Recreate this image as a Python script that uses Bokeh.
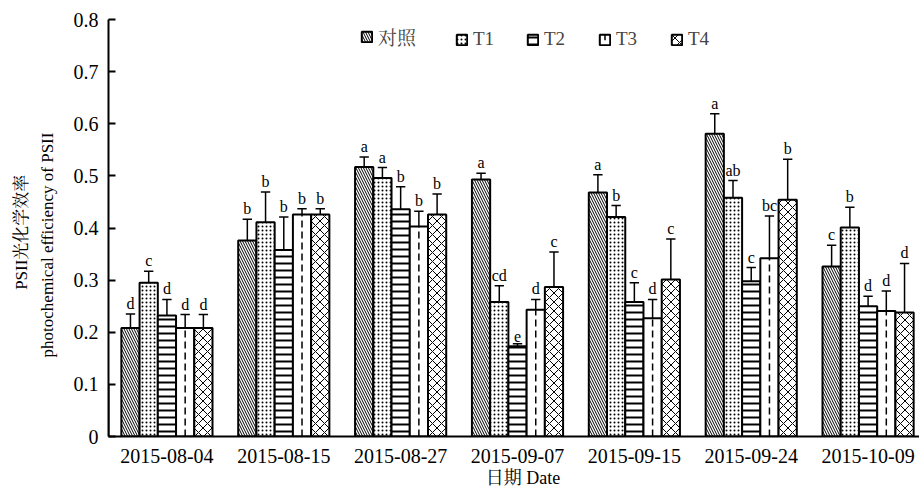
from bokeh.plotting import figure
from bokeh.models import Range1d, FixedTicker, Legend, LegendItem, ColumnDataSource
from bokeh.embed import file_html
from bokeh.resources import INLINE
from bokeh.core.properties import value

# Sampling dates and treatments
dates = ["2015-08-04", "2015-08-15", "2015-08-27", "2015-09-07",
         "2015-09-15", "2015-09-24", "2015-10-09"]
treatments = ["对照", "T1", "T2", "T3", "T4"]

# PSII photochemical efficiency (means)
ctrl = [0.208, 0.376, 0.517, 0.493, 0.468, 0.581, 0.326]
t1 = [0.295, 0.411, 0.496, 0.258, 0.421, 0.458, 0.401]
t2 = [0.232, 0.358, 0.436, 0.173, 0.258, 0.298, 0.250]
t3 = [0.208, 0.426, 0.403, 0.243, 0.227, 0.342, 0.241]
t4 = [0.208, 0.426, 0.426, 0.287, 0.301, 0.454, 0.238]

# Standard errors (upper bars only)
ctrl_err = [0.027, 0.041, 0.019, 0.012, 0.034, 0.038, 0.041]
t1_err = [0.022, 0.058, 0.020, 0.031, 0.022, 0.033, 0.039]
t2_err = [0.031, 0.063, 0.043, 0.005, 0.037, 0.026, 0.019]
t3_err = [0.026, 0.011, 0.029, 0.020, 0.036, 0.081, 0.038]
t4_err = [0.026, 0.011, 0.039, 0.067, 0.078, 0.078, 0.094]

# Significance letters
ctrl_sig = ["d", "b", "a", "a", "a", "a", "c"]
t1_sig = ["c", "b", "a", "cd", "b", "ab", "b"]
t2_sig = ["d", "b", "b", "e", "c", "c", "d"]
t3_sig = ["d", "b", "b", "d", "d", "bc", "d"]
t4_sig = ["d", "b", "b", "c", "c", "b", "d"]

y_ticks = [0, 0.1, 0.2, 0.3, 0.4, 0.5, 0.6, 0.7, 0.8]

x_title = "日期 Date"
y_title_cn = "PSII光化学效率"
y_title_en = "photochemical efficiency of PSII"

means = [ctrl, t1, t2, t3, t4]
errs = [ctrl_err, t1_err, t2_err, t3_err, t4_err]
sigs = [ctrl_sig, t1_sig, t2_sig, t3_sig, t4_sig]

FONT = "'Liberation Serif', 'Noto Serif CJK SC', 'Noto Sans CJK SC', serif"
NBSP = "\u00a0"
BAR_W = 0.156
CAP_HALF = 0.04

styles = [
    dict(hatch_pattern="\\", hatch_scale=5, hatch_weight=1),
    dict(hatch_pattern=".", hatch_scale=4, hatch_weight=1),
    dict(hatch_pattern="-", hatch_scale=7, hatch_weight=2),
    dict(hatch_pattern=" ", hatch_scale=7, hatch_weight=1),
    dict(hatch_pattern="x", hatch_scale=9, hatch_weight=1),
]

# screen offsets (from frame left) of each legend entry
legend_x = [252, 347, 418, 490, 562]
LEGEND_Y = 386

p = figure(width=919, height=490,
           x_range=Range1d(0, 6.94), y_range=Range1d(0, 0.8),
           output_backend="svg", toolbar_location=None,
           min_border_left=108, min_border_right=0,
           min_border_top=19, min_border_bottom=54)
p.outline_line_color = None
p.xgrid.visible = False
p.ygrid.visible = False
p.background_fill_color = "white"

for j, (m, e, s) in enumerate(zip(means, errs, sigs)):
    xs = [i + 0.5 + (j - 2) * BAR_W for i in range(len(dates))]
    tops = [mv + ev for mv, ev in zip(m, e)]
    src = ColumnDataSource(dict(x=xs, top=m, cap=tops, sig=s,
                                x0=[x - CAP_HALF for x in xs],
                                x1=[x + CAP_HALF for x in xs]))
    r = p.vbar(x="x", top="top", width=BAR_W, bottom=0, source=src,
               fill_color="white", line_color="black", line_width=2,
               hatch_color="black", **styles[j])
    if j == 3:
        # centre dashed line inside the T3 bars
        p.segment(x0="x", y0=0, x1="x", y1="top", source=src,
                  line_color="black", line_width=1.5, line_dash="7 4")
        # swatch for the legend: white box with a dashed stroke
        leg_r = p.vbar(x=[-5], top=[0.1], width=BAR_W, fill_color="white",
                       line_color="black", line_width=2, hatch_color="black",
                       hatch_pattern=":", hatch_scale=12, hatch_weight=1.5)
    else:
        leg_r = r
    # error bars
    p.segment(x0="x", y0="top", x1="x", y1="cap", source=src,
              line_color="black", line_width=1.5)
    p.segment(x0="x0", y0="cap", x1="x1", y1="cap", source=src,
              line_color="black", line_width=1.5)
    # significance letters
    p.text(x="x", y="cap", text="sig", source=src, y_offset=-2,
           text_align="center", text_baseline="bottom",
           text_font=value(FONT), text_font_size="16px", text_color="black")

    lg = Legend(items=[LegendItem(label=treatments[j], renderers=[leg_r])],
                location=(legend_x[j], LEGEND_Y), orientation="horizontal",
                glyph_width=13, glyph_height=13, label_standoff=5,
                padding=0, margin=0, border_line_color=None,
                background_fill_alpha=0, label_text_font=FONT,
                label_text_font_size="19px", label_height=18)
    p.add_layout(lg)

# x axis
p.xaxis.ticker = FixedTicker(ticks=[i + 0.5 for i in range(len(dates))])
p.xaxis.major_label_overrides = {i + 0.5: d for i, d in enumerate(dates)}
p.xaxis.major_tick_line_color = None
p.xaxis.minor_tick_line_color = None
p.xaxis.axis_line_width = 2
p.xaxis.axis_line_color = "black"
p.xaxis.major_label_text_font = FONT
p.xaxis.major_label_text_font_size = "20px"
p.xaxis.major_label_text_color = "black"
p.xaxis.major_label_standoff = 6
# leading spaces nudge the title slightly right of the frame centre
p.xaxis.axis_label = NBSP * 4 + x_title
p.xaxis.axis_label_text_font = FONT
p.xaxis.axis_label_text_font_size = "18px"
p.xaxis.axis_label_text_font_style = "normal"
p.xaxis.axis_label_text_color = "black"
p.xaxis.axis_label_standoff = 2

# y axis
p.yaxis.ticker = FixedTicker(ticks=y_ticks)
p.yaxis.major_label_overrides = {0: "0"}
p.yaxis.major_tick_in = 7
p.yaxis.major_tick_out = 0
p.yaxis.major_tick_line_width = 2
p.yaxis.minor_tick_line_color = None
p.yaxis.axis_line_width = 2
p.yaxis.axis_line_color = "black"
p.yaxis.major_label_text_font = FONT
p.yaxis.major_label_text_font_size = "20px"
p.yaxis.major_label_text_color = "black"
p.yaxis.major_label_standoff = 10
# trailing spaces shift each rotated line a little towards the bottom
p.yaxis.axis_label = (y_title_cn + NBSP * 2) + "\n" + (y_title_en + NBSP * 8)
p.yaxis.axis_label_text_font = FONT
p.yaxis.axis_label_text_font_size = "17px"
p.yaxis.axis_label_text_line_height = 1.35
p.yaxis.axis_label_text_font_style = "normal"
p.yaxis.axis_label_text_color = "black"
p.yaxis.axis_label_standoff = 14

open("out.html", "w").write(file_html(p, INLINE))
